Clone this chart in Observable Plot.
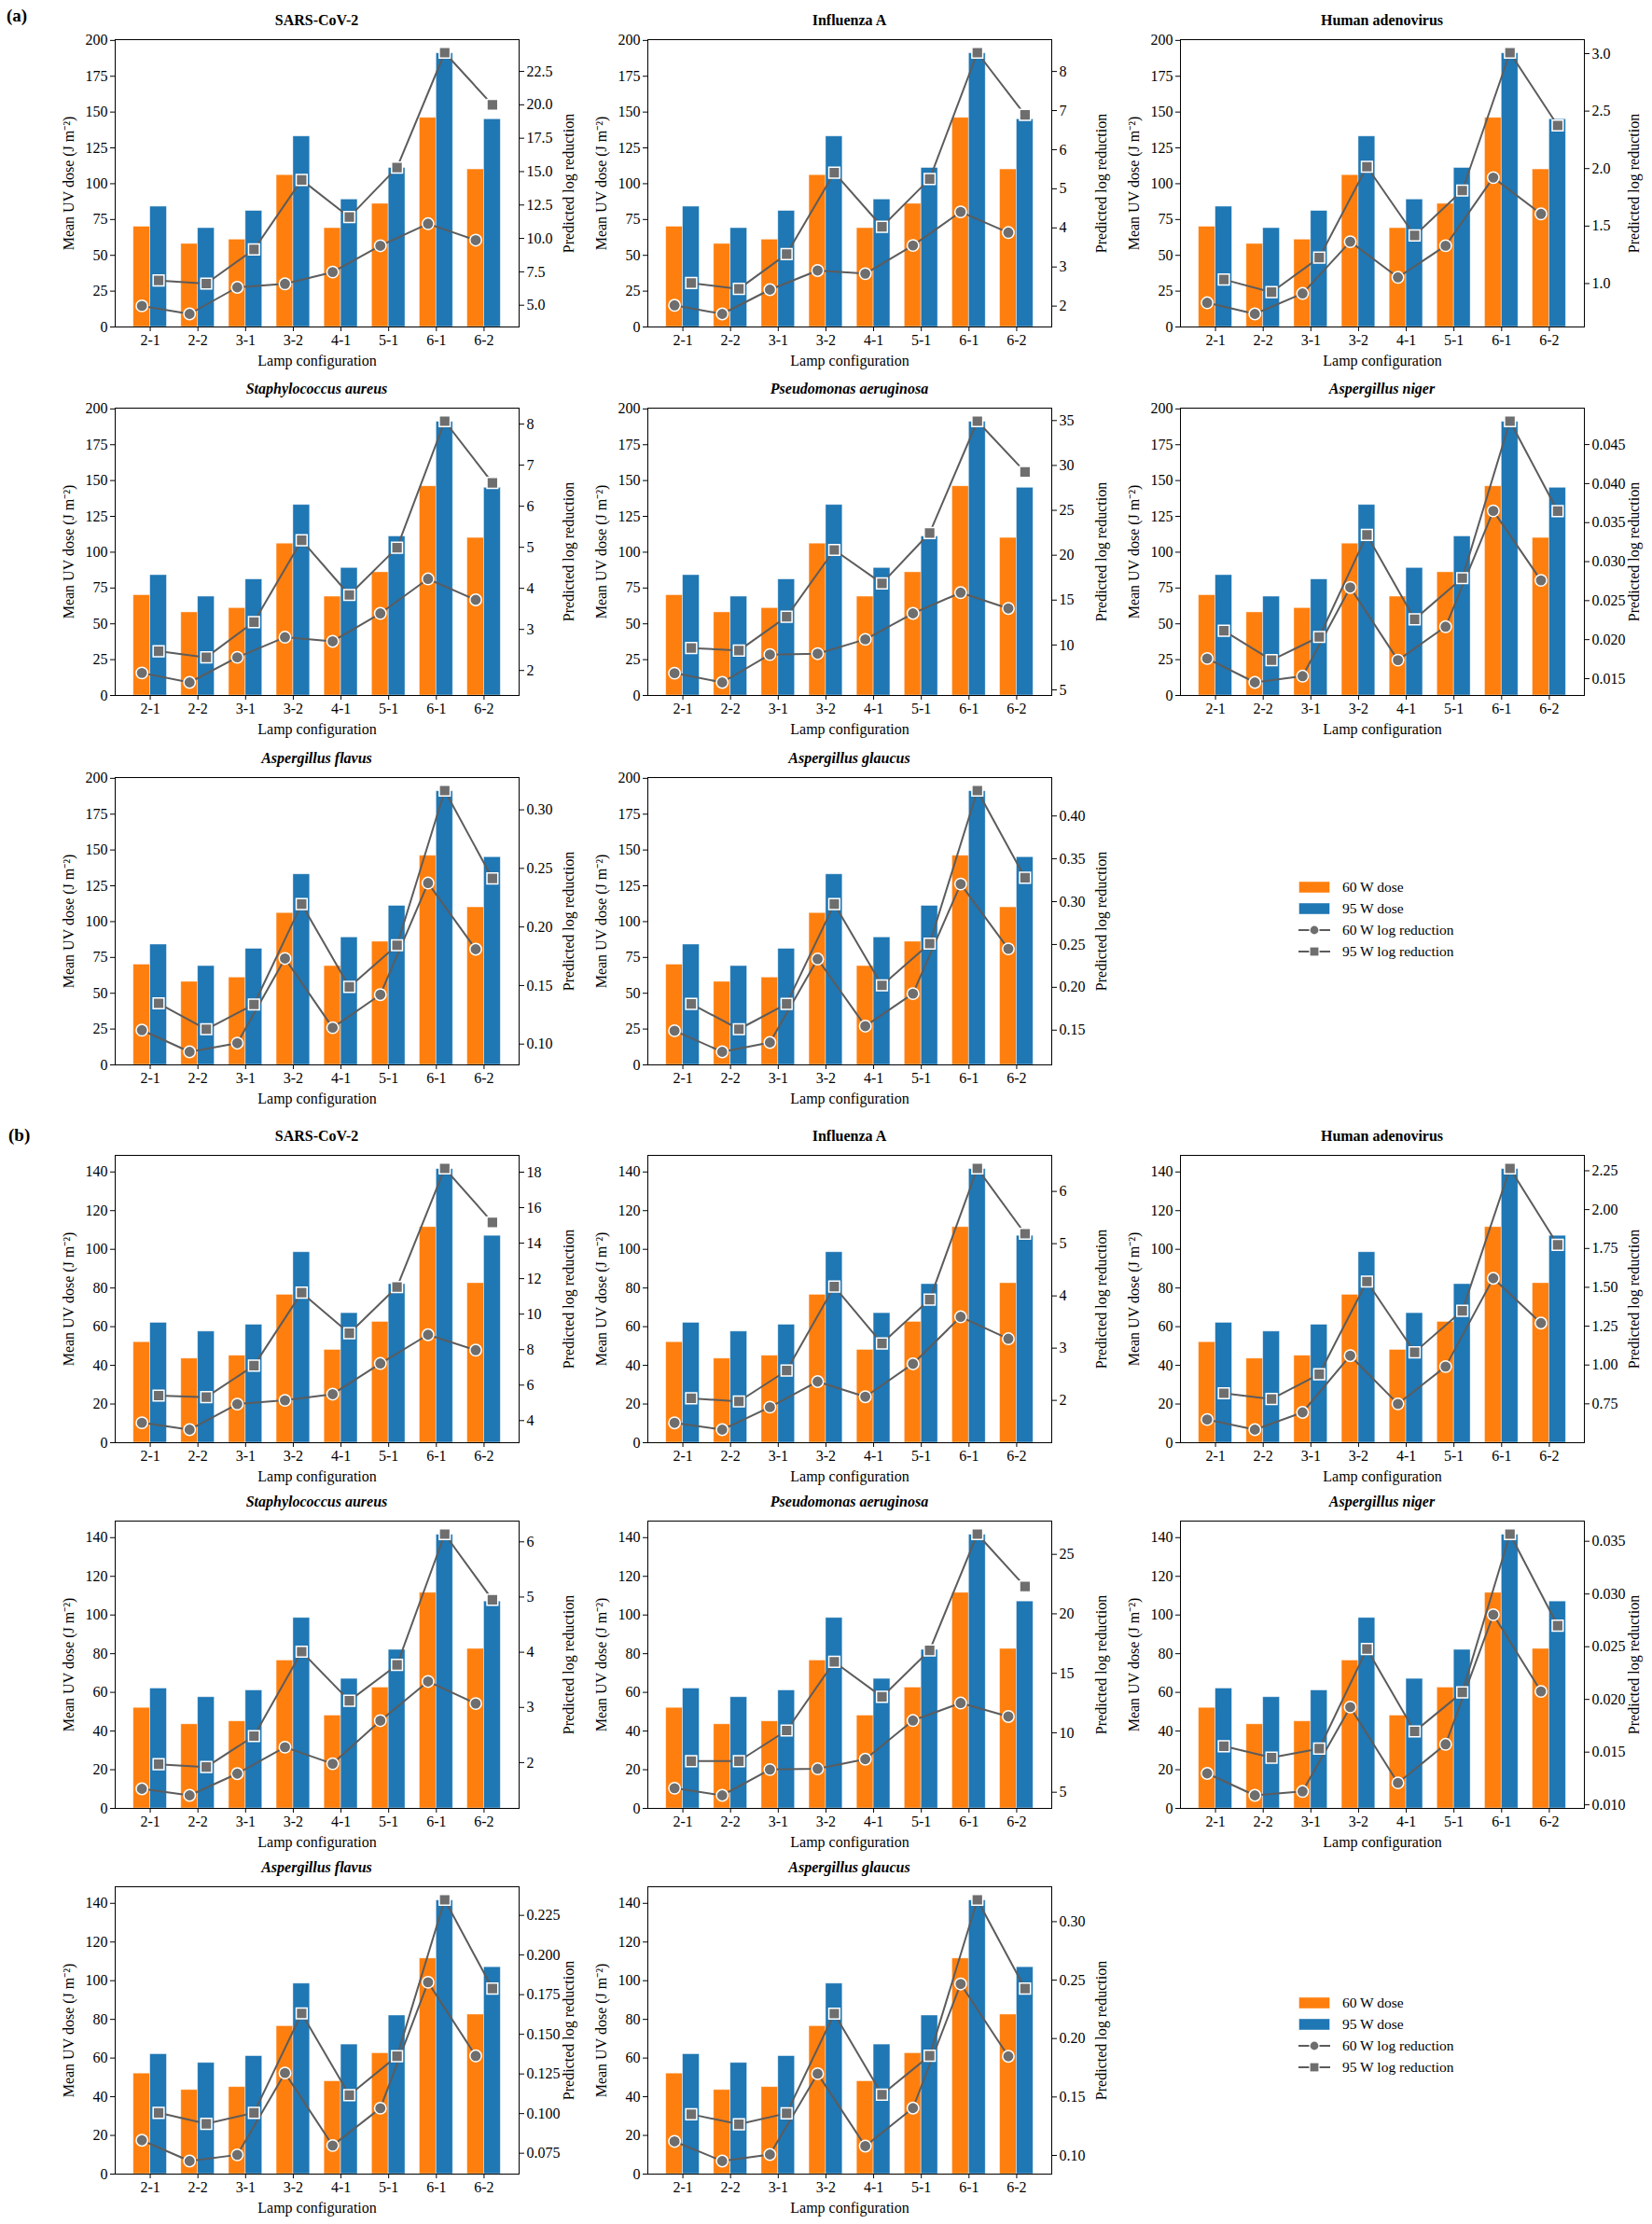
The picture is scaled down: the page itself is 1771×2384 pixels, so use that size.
<!DOCTYPE html>
<html><head><meta charset="utf-8">
<script src="https://cdn.jsdelivr.net/npm/d3@7"></script>
<script src="https://cdn.jsdelivr.net/npm/@observablehq/plot@0.6"></script>
<style>
body{margin:0;background:#fff;}
#fig{position:relative;width:1771px;height:2384px;font-family:"Liberation Serif","Times New Roman",serif;color:#000;background:#fff;overflow:hidden;}
.plotsvg{position:absolute;}
.title{position:absolute;font-weight:bold;font-size:16px;white-space:nowrap;transform:translate(-50%,-50%);}
.title.it{font-style:italic;}
.tag{position:absolute;font-weight:bold;font-size:19px;transform:translateY(-50%);}
.legend{position:absolute;font-size:15.5px;}
.legend .row{display:flex;align-items:center;height:23px;}
.legend svg{display:block;margin-right:13px;}
</style></head><body><div id="fig"></div><script>
// ---------- data ----------
const configs = ["2-1","2-2","3-1","3-2","4-1","5-1","6-1","6-2"];
const organisms = ["SARS-CoV-2","Influenza A","Human adenovirus","Staphylococcus aureus","Pseudomonas aeruginosa","Aspergillus niger","Aspergillus flavus","Aspergillus glaucus"];
const italicName = [false,false,false,true,true,true,true,true];

const dose60_a = [70, 58, 61, 106, 69, 86, 146, 110];
const dose95_a = [84, 69, 81, 133, 89, 111, 191, 145];
const dose60_b = [52, 43.5, 45, 76.5, 48, 62.5, 111.5, 82.5];
const dose95_b = [62, 57.5, 61, 98.5, 67, 82, 141.5, 107];

const doseTicks_a = [0, 25, 50, 75, 100, 125, 150, 175, 200];
const doseTicks_b = [0, 20, 40, 60, 80, 100, 120, 140];

const logRed60_a = [
  [4.95, 4.35, 6.34, 6.6, 7.48, 9.45, 11.1, 9.87],
  [2.02, 1.80, 2.42, 2.91, 2.83, 3.55, 4.41, 3.88],
  [0.833, 0.736, 0.914, 1.364, 1.054, 1.329, 1.922, 1.606],
  [1.94, 1.71, 2.32, 2.81, 2.71, 3.39, 4.23, 3.72],
  [6.86, 5.83, 8.93, 9.03, 10.62, 13.52, 15.83, 14.07],
  [0.01758, 0.01452, 0.01532, 0.02669, 0.01738, 0.02166, 0.03651, 0.0276],
  [0.1119, 0.0934, 0.1008, 0.1731, 0.1140, 0.1422, 0.2375, 0.1810],
  [0.1493, 0.1247, 0.1356, 0.2330, 0.1547, 0.1926, 0.3206, 0.2449]
];
const logRed95_a = [
  [6.85, 6.62, 9.17, 14.38, 11.6, 15.3, 23.9, 20.0],
  [2.59, 2.44, 3.33, 5.41, 4.03, 5.25, 8.48, 6.89],
  [1.035, 0.925, 1.226, 2.016, 1.418, 1.809, 3.008, 2.375],
  [2.47, 2.32, 3.18, 5.17, 3.84, 4.99, 8.07, 6.57],
  [9.66, 9.38, 13.14, 20.59, 16.86, 22.48, 34.93, 29.28],
  [0.02114, 0.01738, 0.02035, 0.03342, 0.02261, 0.02788, 0.0480, 0.03647],
  [0.1348, 0.1127, 0.1338, 0.2195, 0.1488, 0.1844, 0.3164, 0.2414],
  [0.1807, 0.1511, 0.1807, 0.2972, 0.2023, 0.2510, 0.4296, 0.3279]
];
const logRed60_b = [
  [3.88, 3.49, 4.93, 5.14, 5.49, 7.22, 8.84, 7.97],
  [1.57, 1.44, 1.87, 2.36, 2.07, 2.70, 3.60, 3.18],
  [0.649, 0.584, 0.695, 1.060, 0.75, 0.990, 1.558, 1.270],
  [1.525, 1.407, 1.80, 2.28, 1.98, 2.76, 3.47, 3.07],
  [5.34, 4.74, 6.91, 6.97, 7.78, 11.03, 12.50, 11.37],
  [0.01298, 0.0109, 0.01127, 0.01927, 0.01208, 0.01574, 0.02804, 0.02076],
  [0.0832, 0.0701, 0.0740, 0.1256, 0.0799, 0.1034, 0.1828, 0.1364],
  [0.112, 0.0952, 0.1008, 0.1699, 0.108, 0.1405, 0.2467, 0.1848]
];
const logRed95_b = [
  [5.41, 5.32, 7.10, 11.21, 8.92, 11.53, 18.21, 15.17],
  [2.04, 1.98, 2.57, 4.18, 3.09, 3.93, 6.44, 5.19],
  [0.818, 0.781, 0.941, 1.537, 1.082, 1.349, 2.265, 1.774],
  [1.97, 1.92, 2.48, 4.01, 3.12, 3.77, 6.14, 4.95],
  [7.62, 7.62, 10.19, 15.96, 13.02, 16.93, 26.70, 22.30],
  [0.01556, 0.01448, 0.01533, 0.02478, 0.01696, 0.02067, 0.03568, 0.027],
  [0.1005, 0.0936, 0.1005, 0.1632, 0.1117, 0.1362, 0.2348, 0.1789],
  [0.1352, 0.1267, 0.136, 0.2213, 0.152, 0.1853, 0.3187, 0.2427]
];

const rightTicks_a = [
  [5, 7.5, 10, 12.5, 15, 17.5, 20, 22.5],
  [2, 3, 4, 5, 6, 7, 8],
  [1.0, 1.5, 2.0, 2.5, 3.0],
  [2, 3, 4, 5, 6, 7, 8],
  [5, 10, 15, 20, 25, 30, 35],
  [0.015, 0.020, 0.025, 0.030, 0.035, 0.040, 0.045],
  [0.10, 0.15, 0.20, 0.25, 0.30],
  [0.15, 0.20, 0.25, 0.30, 0.35, 0.40]
];
const rightDecimals_a = [1, 0, 1, 0, 0, 3, 2, 2];
const rightTicks_b = [
  [4, 6, 8, 10, 12, 14, 16, 18],
  [2, 3, 4, 5, 6],
  [0.75, 1.00, 1.25, 1.50, 1.75, 2.00, 2.25],
  [2, 3, 4, 5, 6],
  [5, 10, 15, 20, 25],
  [0.010, 0.015, 0.020, 0.025, 0.030, 0.035],
  [0.075, 0.100, 0.125, 0.150, 0.175, 0.200, 0.225],
  [0.10, 0.15, 0.20, 0.25, 0.30]
];
const rightDecimals_b = [0, 0, 2, 0, 0, 3, 3, 2];

const seriesNames = ["60 W", "95 W"];

// ---------- style ----------
const ORANGE = "#ff7f0e", BLUE = "#1f77b4", LINEC = "#5c5c5c", MARKC = "#6e6e6e";
const FONT = '"Liberation Serif","Times New Roman",serif';
const colX = [123, 694, 1265];
const rowY_a = [42, 437, 833];
const rowY_b = [1238, 1630, 2022];
const FW = 433, FH = 308;
const ML = 80, MR = 80, MT = 12, MB = 52;

const fig = document.getElementById("fig");

function drawPanel(fx, fy, d60, d95, l60, l95, dTicks, rTicks, rDec, name, italic) {
  const n = configs.length;
  const span = (n - 1) + 0.7;
  const xDomain = [-0.35 - 0.05 * span, (n - 1) + 0.35 + 0.05 * span];
  const bars = configs.flatMap((c, i) => [
    {x1: i - 0.35, x2: i, v: d60[i], s: seriesNames[0]},
    {x1: i, x2: i + 0.35, v: d95[i], s: seriesNames[1]}
  ]);
  const doseMax = d3.max([...d60, ...d95]);
  const p60 = configs.map((c, i) => ({x: i - 0.175, v: l60[i]}));
  const p95 = configs.map((c, i) => ({x: i + 0.175, v: l95[i]}));
  const lmin = d3.min([...l60, ...l95]), lmax = d3.max([...l60, ...l95]);
  const rDomain = [lmin - 0.05 * (lmax - lmin), lmax + 0.05 * (lmax - lmin)];
  const common = {
    width: FW + ML + MR, height: FH + MT + MB,
    marginLeft: ML, marginRight: MR, marginTop: MT, marginBottom: MB,
    style: {fontFamily: FONT, fontSize: "16px", background: "transparent", overflow: "visible", color: "#000"}
  };
  const barPlot = Plot.plot({
    ...common,
    x: {domain: xDomain, ticks: d3.range(n), tickFormat: i => configs[i], tickSize: 5, tickPadding: 3,
        label: "Lamp configuration", labelAnchor: "center", labelOffset: 41, labelArrow: "none"},
    y: {domain: [0, doseMax * 1.05], ticks: dTicks, tickSize: 5, tickPadding: 3,
        label: "Mean UV dose (J m⁻²)", labelAnchor: "center", labelOffset: 56, labelArrow: "none"},
    color: {domain: seriesNames, range: [ORANGE, BLUE]},
    marks: [
      Plot.rectY(bars, {x1: "x1", x2: "x2", y1: 0, y2: "v", fill: "s", stroke: "white", strokeWidth: 0.8, strokeOpacity: 0.55})
    ]
  });
  const linePlot = Plot.plot({
    ...common,
    x: {domain: xDomain, axis: null},
    y: {domain: rDomain, axis: "right", ticks: rTicks, tickFormat: d => d.toFixed(rDec), tickSize: 5, tickPadding: 3,
        label: "Predicted log reduction", labelAnchor: "center", labelOffset: 58, labelArrow: "none"},
    marks: [
      Plot.frame({stroke: "black", strokeWidth: 1}),
      Plot.line(p60, {x: "x", y: "v", stroke: LINEC, strokeWidth: 2}),
      Plot.dot(p60, {x: "x", y: "v", r: 6.2, symbol: "circle", fill: MARKC, stroke: "white", strokeWidth: 1.5}),
      Plot.line(p95, {x: "x", y: "v", stroke: LINEC, strokeWidth: 2}),
      Plot.dot(p95, {x: "x", y: "v", r: 6.6, symbol: "square", fill: MARKC, stroke: "white", strokeWidth: 1.5})
    ]
  });
  for (const svg of [barPlot, linePlot]) {
    svg.classList.add("plotsvg");
    svg.style.left = (fx - ML) + "px";
    svg.style.top = (fy - MT) + "px";
    svg.style.maxWidth = "none";
    fig.appendChild(svg);
  }
  const t = document.createElement("div");
  t.className = "title" + (italic ? " it" : "");
  t.textContent = name;
  t.style.left = (fx + FW / 2) + "px";
  t.style.top = (fy - 20) + "px";
  fig.appendChild(t);
}

function drawLegend(x, yCenter) {
  const lg = document.createElement("div");
  lg.className = "legend";
  lg.style.left = x + "px";
  lg.style.top = (yCenter - 11.5) + "px";
  const items = [
    {label: seriesNames[0] + " dose", kind: "bar", color: ORANGE},
    {label: seriesNames[1] + " dose", kind: "bar", color: BLUE},
    {label: seriesNames[0] + " log reduction", kind: "circle"},
    {label: seriesNames[1] + " log reduction", kind: "square"}
  ];
  for (const it of items) {
    const row = document.createElement("div");
    row.className = "row";
    let sym;
    if (it.kind === "bar") sym = `<svg width="34" height="14"><rect x="0.5" y="1" width="33" height="12" fill="${it.color}" stroke="white" stroke-opacity="0.55" stroke-width="0.8"/></svg>`;
    else if (it.kind === "circle") sym = `<svg width="34" height="14"><line x1="0" x2="34" y1="7" y2="7" stroke="${LINEC}" stroke-width="2"/><circle cx="17" cy="7" r="5" fill="${MARKC}" stroke="white" stroke-width="1.2"/></svg>`;
    else sym = `<svg width="34" height="14"><line x1="0" x2="34" y1="7" y2="7" stroke="${LINEC}" stroke-width="2"/><rect x="12" y="2" width="10" height="10" fill="${MARKC}" stroke="white" stroke-width="1.2"/></svg>`;
    row.innerHTML = sym + `<span>${it.label}</span>`;
    lg.appendChild(row);
  }
  fig.appendChild(lg);
}

function drawSet(rows, d60, d95, L60, L95, dTicks, RT, RD) {
  organisms.forEach((name, k) => {
    const r = Math.floor(k / 3), c = k % 3;
    drawPanel(colX[c], rows[r], d60, d95, L60[k], L95[k], dTicks, RT[k], RD[k], name, italicName[k]);
  });
}

drawSet(rowY_a, dose60_a, dose95_a, logRed60_a, logRed95_a, doseTicks_a, rightTicks_a, rightDecimals_a);
drawSet(rowY_b, dose60_b, dose95_b, logRed60_b, logRed95_b, doseTicks_b, rightTicks_b, rightDecimals_b);
drawLegend(1392, 951);
drawLegend(1392, 2147);

const ta = document.createElement("div"); ta.className = "tag"; ta.textContent = "(a)"; ta.style.left = "7px"; ta.style.top = "17px"; fig.appendChild(ta);
const tb = document.createElement("div"); tb.className = "tag"; tb.textContent = "(b)"; tb.style.left = "9px"; tb.style.top = "1217px"; fig.appendChild(tb);
</script></body></html>
